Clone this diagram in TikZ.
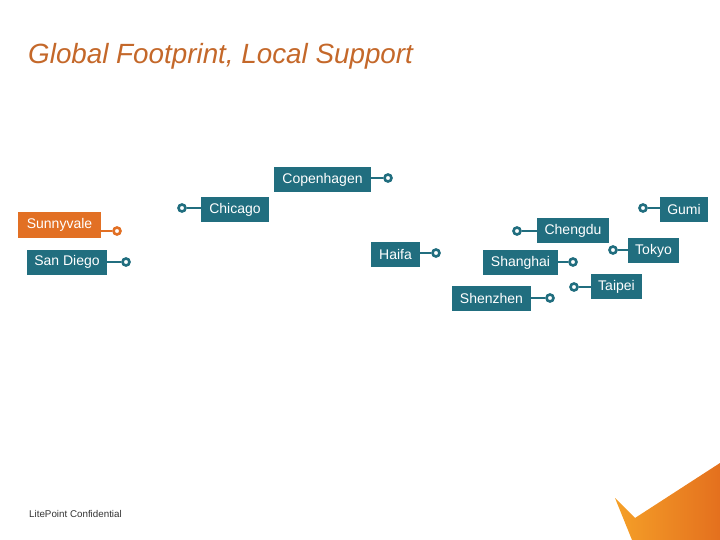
\documentclass[tikz,border=0pt]{standalone}
\usepackage{fontspec}
\setmainfont{Liberation Sans}
\definecolor{teal1}{RGB}{33,110,127}
\definecolor{orng}{RGB}{226,112,36}
\definecolor{titlec}{RGB}{196,104,42}
\definecolor{gradA}{RGB}{245,160,40}
\definecolor{gradB}{RGB}{228,112,30}
\tikzset{
  box/.style={fill=teal1, text=white, inner sep=0pt, minimum height=25pt, font=\fontsize{14}{16}\selectfont, anchor=center},
  obox/.style={box, fill=orng},
  ring/.style={circle, draw=teal1, fill=white, line width=2.6pt, inner sep=0pt, minimum size=7pt},
  oring/.style={ring, draw=orng},
  conn/.style={draw=teal1, line width=2.4pt},
  oconn/.style={conn, draw=orng}
}
\begin{document}
\begin{tikzpicture}[x=1pt,y=-1pt]
\useasboundingbox (0,0) rectangle (720,540);
% title
\node[anchor=base west, inner sep=0pt, text=titlec, font=\fontsize{27.8}{32}\selectfont\itshape] (title) at (28,64) {Global Footprint, Local Support};
% boxes
\node[box, minimum width=97pt] (cop) at (322.5,179.5) {Copenhagen};
\node[box, minimum width=68pt] (chi) at (235,209.5) {Chicago};
\node[obox, minimum width=83pt] (sun) at (59.5,225) {Sunnyvale};
\node[box, minimum width=80pt] (sd) at (67,262) {San Diego};
\node[box, minimum width=49pt] (hai) at (395.5,254.5) {Haifa};
\node[box, minimum width=72pt] (che) at (573,230.5) {Chengdu};
\node[box, minimum width=75pt] (sha) at (520.5,262.5) {Shanghai};
\node[box, minimum width=79pt] (she) at (491.5,298.5) {Shenzhen};
\node[box, minimum width=51pt] (tai) at (616.5,286.5) {Taipei};
\node[box, minimum width=51pt] (tok) at (653.5,250.5) {Tokyo};
\node[box, minimum width=48pt] (gum) at (684,209.5) {Gumi};
% rings
\node[ring] (ccop) at (388,178) {};
\node[ring] (cchi) at (182,208) {};
\node[oring] (csun) at (117,231) {};
\node[ring] (csd) at (126,262) {};
\node[ring] (chai) at (436,253) {};
\node[ring] (cche) at (517,231) {};
\node[ring] (csha) at (573,262) {};
\node[ring] (cshe) at (550,298) {};
\node[ring] (ctai) at (574,287) {};
\node[ring] (ctok) at (613,250) {};
\node[ring] (cgum) at (643,208) {};
% connectors
\draw[conn] (cop.east |- ccop) -- (ccop.west);
\draw[conn] (cchi.east) -- (chi.west |- cchi);
\draw[oconn] (sun.east |- csun) -- (csun.west);
\draw[conn] (sd.east |- csd) -- (csd.west);
\draw[conn] (hai.east |- chai) -- (chai.west);
\draw[conn] (cche.east) -- (che.west |- cche);
\draw[conn] (sha.east |- csha) -- (csha.west);
\draw[conn] (she.east |- cshe) -- (cshe.west);
\draw[conn] (ctai.east) -- (tai.west |- ctai);
\draw[conn] (ctok.east) -- (tok.west |- ctok);
\draw[conn] (cgum.east) -- (gum.west |- cgum);
% footer
\node[anchor=base west, inner sep=0pt, text=black!80, font=\fontsize{9.8}{11}\selectfont] (foot) at (29,517) {LitePoint Confidential};
% corner decoration
\shade[left color=gradA, right color=gradB] (615,498) -- (635,518) -- (720,463) -- (720,540) -- (632,540) -- cycle;
\end{tikzpicture}
\end{document}
